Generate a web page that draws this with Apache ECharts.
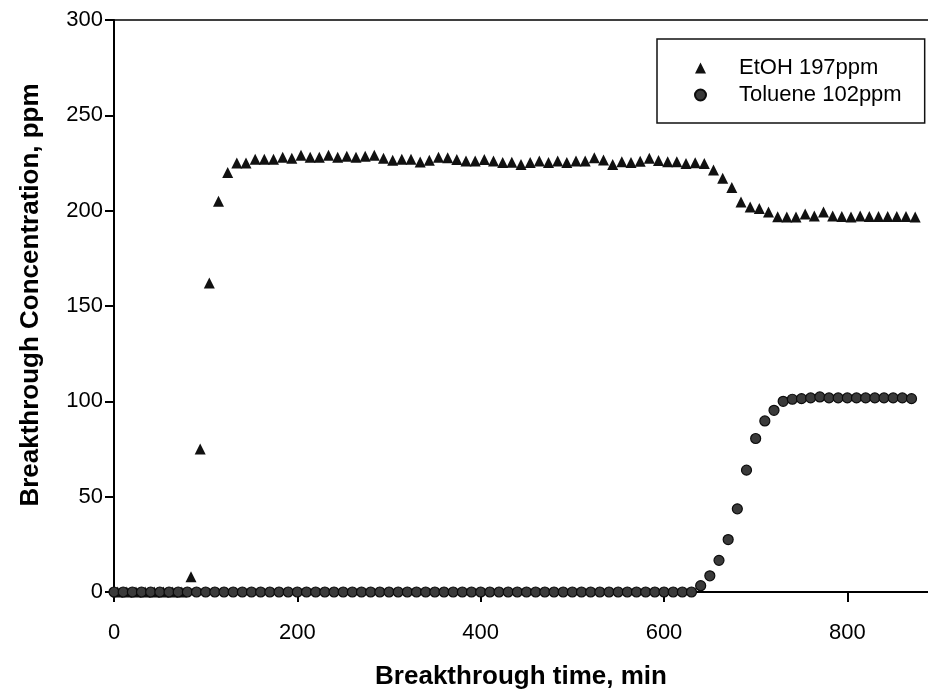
<!DOCTYPE html>
<html>
<head>
<meta charset="utf-8">
<script src="https://cdn.jsdelivr.net/npm/echarts@6/dist/echarts.min.js"></script>
<style>
  html, body { margin: 0; padding: 0; background: #fff; }
  #chart { width: 928px; height: 695px; }
</style>
</head>
<body>
<div id="chart"></div>
<script>
// Ethanol breakthrough: sampling times (min) and outlet concentration (ppm)
const etohTime = [4,14,24,34,44,54,64,74,84,94,104,114,124,134,144,154,164,174,184,194,
  204,214,224,234,244,254,264,274,284,294,304,314,324,334,344,354,364,374,384,394,
  404,414,424,434,444,454,464,474,484,494,504,514,524,534,544,554,564,574,584,594,
  604,614,624,634,644,654,664,674,684,694,704,714,724,734,744,754,764,774,784,794,
  804,814,824,834,844,854,864,874];
const etohConc = [0,0,0,0,0,0,0,0,8,75,162,205,220,225,225,227,227,227,228,227.5,
  229,228,228,229,228,228.5,228,228.5,229,227.5,226.5,227,227,225.5,226.5,228,227.7,226.8,226,226,
  226.8,226,225.2,225.4,224.2,225.2,226,225.2,226,225.2,226,226,227.7,226.6,224.2,225.6,225.2,225.9,227.5,226.3,
  225.6,225.6,224.8,225.1,224.8,221.3,217,212.2,204.5,201.9,201.2,199.3,196.8,196.7,196.7,198.3,197.2,199.3,197.2,196.9,
  196.7,197.2,196.9,196.9,196.9,196.9,196.9,196.7];

// Toluene breakthrough: sampling times (min) and outlet concentration (ppm)
const tolTime = [0,10,20,30,40,50,60,70,80,90,100,110,120,130,140,150,160,170,180,190,
  200,210,220,230,240,250,260,270,280,290,300,310,320,330,340,350,360,370,380,390,
  400,410,420,430,440,450,460,470,480,490,500,510,520,530,540,550,560,570,580,590,
  600,610,620,630,640,650,660,670,680,690,700,710,720,730,740,750,760,770,780,790,
  800,810,820,830,840,850,860,870];
const tolConc = [0,0,0,0,0,0,0,0,0,0,0,0,0,0,0,0,0,0,0,0,
  0,0,0,0,0,0,0,0,0,0,0,0,0,0,0,0,0,0,0,0,
  0,0,0,0,0,0,0,0,0,0,0,0,0,0,0,0,0,0,0,0,
  0,0,0,0,3.3,8.5,16.6,27.5,43.6,63.9,80.5,89.7,95.3,100,101.1,101.4,101.8,102.3,101.8,101.8,
  101.8,101.8,101.8,101.8,101.8,101.8,101.8,101.4];

const seriesNames = ['EtOH 197ppm', 'Toluene 102ppm'];
const xTicks = [0, 200, 400, 600, 800];
const yTicks = [0, 50, 100, 150, 200, 250, 300];

const pairs = (xs, ys) => xs.map((x, i) => [x, ys[i]]);
const FONT = '"Liberation Sans", Arial, Helvetica, sans-serif';

const chart = echarts.init(document.getElementById('chart'), null, { renderer: 'canvas' });
chart.setOption({
  animation: false,
  backgroundColor: '#ffffff',
  textStyle: { fontFamily: FONT, color: '#000' },
  grid: { left: 114, top: 20, right: 0, bottom: 101, containLabel: false },
  legend: {
    orient: 'vertical',
    left: 657,
    top: 39,
    padding: [18, 23, 17, 37],
    itemWidth: 11,
    itemHeight: 11,
    itemGap: 5,
    borderColor: '#111',
    borderWidth: 1.5,
    borderRadius: 0,
    data: [
      { name: seriesNames[0], icon: 'triangle' },
      { name: seriesNames[1], icon: 'circle' }
    ],
    textStyle: { fontFamily: FONT, fontSize: 22, lineHeight: 22, color: '#000', padding: [0, 0, 0, 28] }
  },
  xAxis: [{
    type: 'value',
    min: 0,
    max: 888,
    interval: 200,
    name: 'Breakthrough time, min',
    nameLocation: 'middle',
    nameGap: 72,
    nameTextStyle: { fontFamily: FONT, fontSize: 26, fontWeight: 'bold', color: '#000' },
    axisLine: { show: true, onZero: false, lineStyle: { color: '#000', width: 2 } },
    axisTick: { show: true, inside: false, length: 10, customValues: xTicks, lineStyle: { color: '#000', width: 2 } },
    axisLabel: { customValues: xTicks, margin: 30, fontFamily: FONT, fontSize: 22, color: '#000' },
    splitLine: { show: false }
  }, {
    type: 'value',
    position: 'top',
    min: 0,
    max: 888,
    axisLine: { show: true, onZero: false, lineStyle: { color: '#000', width: 1.5 } },
    axisTick: { show: false },
    axisLabel: { show: false },
    splitLine: { show: false }
  }],
  yAxis: {
    type: 'value',
    min: 0,
    max: 300,
    interval: 50,
    name: 'Breakthrough Concentration, ppm',
    nameLocation: 'middle',
    nameGap: 70,
    nameTextStyle: { fontFamily: FONT, fontSize: 26, fontWeight: 'bold', color: '#000', padding: [0, 0, 0, 22] },
    axisLine: { show: true, onZero: false, lineStyle: { color: '#000', width: 2 } },
    axisTick: { show: true, inside: false, length: 9, customValues: yTicks, lineStyle: { color: '#000', width: 2 } },
    axisLabel: { customValues: yTicks, margin: 11, fontFamily: FONT, fontSize: 22, color: '#000' },
    splitLine: { show: false }
  },
  series: [{
    name: seriesNames[0],
    type: 'scatter',
    symbol: 'triangle',
    symbolSize: 11,
    itemStyle: { color: '#111', opacity: 1 },
    data: pairs(etohTime, etohConc)
  }, {
    name: seriesNames[1],
    type: 'scatter',
    symbol: 'circle',
    symbolSize: 10,
    itemStyle: { color: '#3a3a3a', borderColor: '#0c0c0c', borderWidth: 1.2, opacity: 1 },
    data: pairs(tolTime, tolConc)
  }]
});
</script>
</body>
</html>
